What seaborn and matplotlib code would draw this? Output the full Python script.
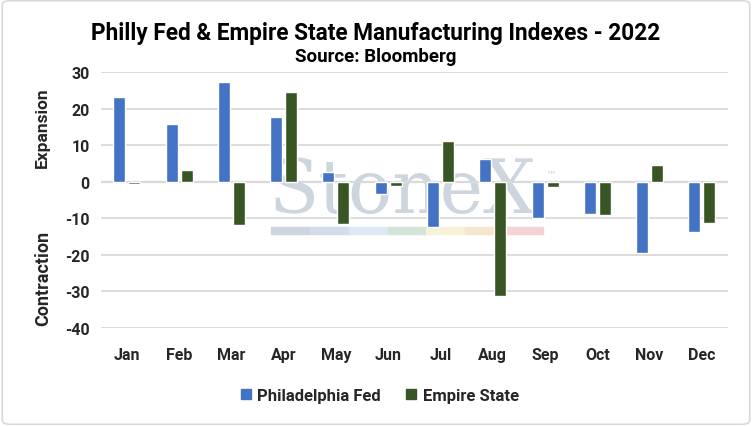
import matplotlib
matplotlib.use("Agg")
import matplotlib.pyplot as plt
import seaborn as sns
import pandas as pd
from matplotlib.patches import FancyBboxPatch, Rectangle

months = ["Jan", "Feb", "Mar", "Apr", "May", "Jun", "Jul", "Aug", "Sep", "Oct", "Nov", "Dec"]
philly = [23.2, 15.9, 27.4, 17.6, 2.6, -3.3, -12.3, 6.2, -9.9, -8.7, -19.4, -13.8]
empire = [-0.7, 3.1, -11.8, 24.6, -11.6, -1.2, 11.1, -31.3, -1.5, -9.1, 4.5, -11.2]
series_names = ["Philadelphia Fed", "Empire State"]
yticks = [-40, -30, -20, -10, 0, 10, 20, 30]

df = pd.DataFrame({
    "Month": months * 2,
    "Value": philly + empire,
    "Series": [series_names[0]] * 12 + [series_names[1]] * 12,
})

sns.set_theme(style="white")
plt.rcParams["font.family"] = ["Roboto", "DejaVu Sans"]

fig = plt.figure(figsize=(7.52, 4.27), dpi=100)
ax = fig.add_axes([0.134, 0.2295, 0.834, 0.5995])
ax.set_zorder(2)
ax.patch.set_alpha(0)

colors = {"Philadelphia Fed": "#4472C4", "Empire State": "#375623"}
sns.barplot(data=df, x="Month", y="Value", hue="Series", order=months,
            hue_order=series_names, palette=colors, width=0.574, gap=0.2,
            ax=ax, saturation=1, legend=False, zorder=3)

ax.set_ylim(-40, 30)
ax.set_yticks(yticks)
ax.set_yticklabels([str(t) for t in yticks], fontsize=11.5, fontweight="bold")
ax.set_xticks(range(12))
ax.set_xticklabels(months, fontsize=11.5, fontweight="bold")
ax.set_xlim(-0.5, 11.5)
ax.grid(axis="y", color="#d9d9d9", linewidth=1.3, zorder=0)
ax.axhline(0, color="#d9d9d9", linewidth=1.6, zorder=2)
for s in ax.spines.values():
    s.set_visible(False)
ax.tick_params(axis="both", length=0, pad=8)
ax.tick_params(axis="x", pad=14)
ax.set_xlabel("")
ax.set_ylabel("")

# watermark (behind the plot)
fig.text(0.536, 0.501, "StoneX", fontsize=53, family="DejaVu Serif", fontweight="normal",
         color="#cdd5df", ha="center", va="baseline", zorder=1)
fig.text(0.733, 0.587, "™", fontsize=8, family="DejaVu Sans", color="#cdd5df",
         ha="center", va="center", zorder=1)
strip = ["#ccd4de", "#d3dcea", "#dde8f3", "#d5e4d8", "#f5f2d8", "#f7e5cf", "#f3d3d3"]
x0 = 271 / 752
w = (543 - 271) / 752 / len(strip)
for i, c in enumerate(strip):
    fig.patches.append(Rectangle((x0 + i * w, 1 - 235 / 427), w, 7 / 427,
                                 transform=fig.transFigure, color=c, zorder=1))

fig.text(0.5, 0.922, "Philly Fed & Empire State Manufacturing Indexes - 2022",
         ha="center", va="center", fontsize=16.3, fontweight="bold", color="#000000")
fig.text(0.5, 0.866, "Source: Bloomberg", ha="center", va="center",
         fontsize=13.5, fontweight="bold", color="#000000")

fig.text(0.057, 0.70, "Expansion", rotation=90, ha="center", va="center",
         fontsize=12.5, fontweight="bold")
fig.text(0.057, 0.349, "Contraction", rotation=90, ha="center", va="center",
         fontsize=13, fontweight="bold")

# legend
handles = [Rectangle((0, 0), 1, 1, color=colors[n]) for n in series_names]
fig.legend(handles, series_names, loc="center", bbox_to_anchor=(0.505, 0.072),
           ncol=2, frameon=False, handlelength=0.6, handleheight=0.6,
           columnspacing=1.5, handletextpad=0.4, prop={"weight": "bold", "size": 12})

fig.patches.append(FancyBboxPatch((0.003, 0.004), 0.994, 0.992,
                                  boxstyle="round,pad=0,rounding_size=0.01",
                                  transform=fig.transFigure, fill=False,
                                  edgecolor="#d9d9d9", linewidth=1.2))

fig.savefig("out.png", dpi=100)
